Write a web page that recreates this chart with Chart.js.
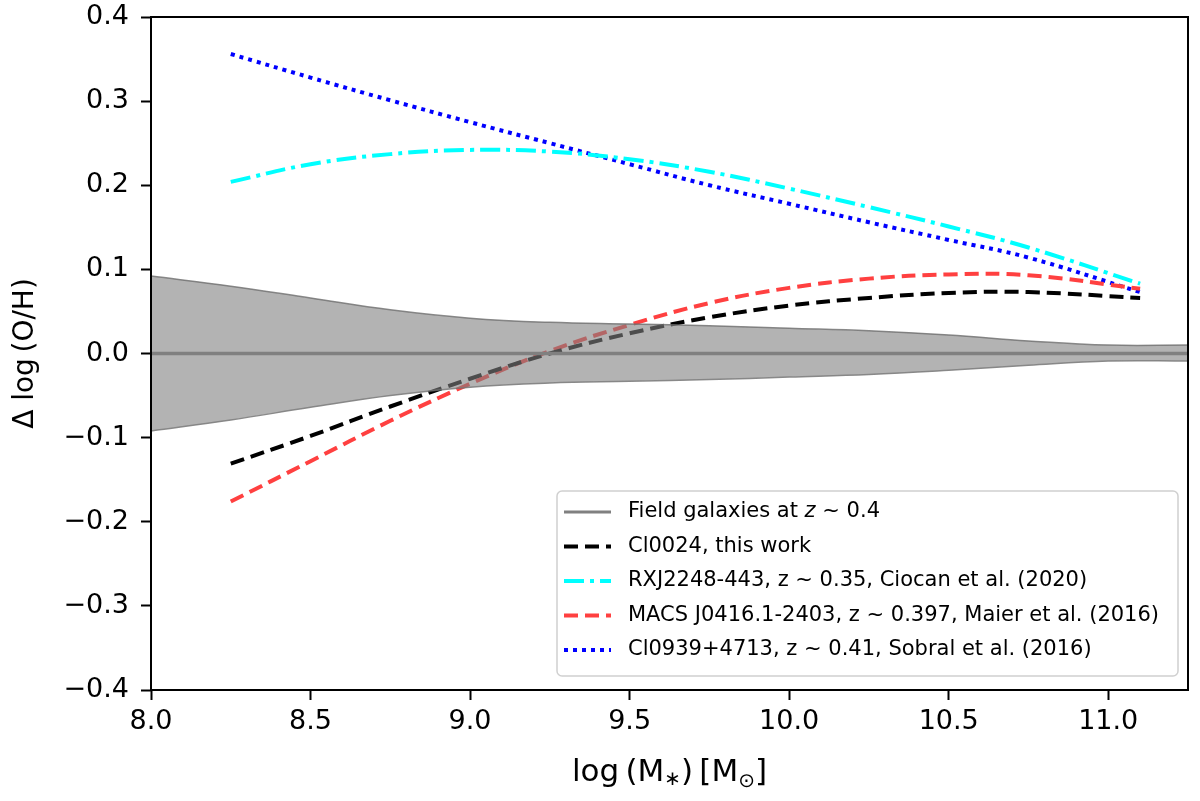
<!DOCTYPE html>
<html lang="en">
<head>
    <meta charset="UTF-8">
    <title>Delta log(O/H) vs stellar mass</title>
    <script src="https://cdn.jsdelivr.net/npm/chart.js"></script>
    <style>
        html, body { margin: 0; padding: 0; background: #fff; }
        #wrap { width: 1200px; height: 801px; }
    </style>
</head>
<body>
    <div id="wrap"><canvas id="chart" width="1200" height="801"></canvas></div>
    <script>
        // values
        const curveMass = [8.25, 8.5, 8.75, 9.0, 9.25, 9.5, 9.75, 10.0, 10.25, 10.5, 10.75, 11.1];
        const cl0024 = [-0.131, -0.098, -0.063, -0.030, 0.000, 0.024, 0.043, 0.057, 0.066, 0.072, 0.073, 0.066];
        const rxj2248 = [0.204, 0.225, 0.237, 0.242, 0.240, 0.231, 0.216, 0.196, 0.174, 0.151, 0.126, 0.083];
        const macs0416 = [-0.176, -0.128, -0.080, -0.036, 0.003, 0.034, 0.060, 0.078, 0.089, 0.094, 0.093, 0.077];
        const cl0939 = [0.356, 0.328, 0.301, 0.275, 0.250, 0.225, 0.200, 0.178, 0.156, 0.135, 0.114, 0.073];

        const fieldMass = [8.0, 8.25, 8.5, 8.75, 9.0, 9.25, 9.5, 9.75, 10.0, 10.25, 10.5, 10.75, 11.0, 11.25];
        const fieldUpper = [0.092, 0.080, 0.066, 0.052, 0.042, 0.037, 0.035, 0.033, 0.030, 0.027, 0.022, 0.015, 0.010, 0.010];
        const fieldLower = [-0.092, -0.079, -0.064, -0.050, -0.040, -0.035, -0.033, -0.031, -0.028, -0.025, -0.020, -0.014, -0.009, -0.009];
        const fieldMid = [0, 0, 0, 0, 0, 0, 0, 0, 0, 0, 0, 0, 0, 0];

        const xTicks = [8.0, 8.5, 9.0, 9.5, 10.0, 10.5, 11.0];
        const yTicks = [-0.4, -0.3, -0.2, -0.1, 0.0, 0.1, 0.2, 0.3, 0.4];

        const legendItems = [
            { label: ['Field galaxies at ', 'z', ' ~ 0.4'], color: '#808080', dash: [], width: 3 },
            { label: ['Cl0024, this work'], color: '#000000', dash: [14, 7], width: 4 },
            { label: ['RXJ2248-443, z ~ 0.35, Ciocan et al. (2020)'], color: '#00ffff', dash: [20, 6, 4, 6], width: 4 },
            { label: ['MACS J0416.1-2403, z ~ 0.397, Maier et al. (2016)'], color: '#ff4040', dash: [14, 7], width: 4 },
            { label: ['Cl0939+4713, z ~ 0.41, Sobral et al. (2016)'], color: '#0000ff', dash: [4, 5], width: 4 }
        ];

        const pts = (xs, ys) => xs.map((x, i) => ({ x: x, y: ys[i] }));
        const FONT = "'DejaVu Sans', sans-serif";
        const fmt = v => (v < 0 ? '\u2212' : '') + Math.abs(v).toFixed(1);

        const frameAndLegend = {
            id: 'frameAndLegend',
            afterDraw(chart) {
                const c = chart.ctx;
                const a = chart.chartArea;
                c.save();
                c.strokeStyle = '#000';
                c.lineWidth = 2;
                c.setLineDash([]);
                c.strokeRect(a.left, a.top, a.right - a.left, a.bottom - a.top);

                // legend box
                const bx = 557, by = 491, bw = 621, bh = 185;
                c.fillStyle = 'rgba(255,255,255,0.85)';
                c.strokeStyle = '#d0d0d0';
                c.lineWidth = 1.5;
                c.beginPath();
                c.roundRect(bx, by, bw, bh, 5);
                c.fill();
                c.stroke();

                c.textBaseline = 'middle';
                c.fillStyle = '#000';
                legendItems.forEach((it, i) => {
                    const y = 512 + i * 34.5;
                    c.strokeStyle = it.color;
                    c.lineWidth = it.width;
                    c.setLineDash(it.dash);
                    c.beginPath();
                    c.moveTo(564, y);
                    c.lineTo(611, y);
                    c.stroke();
                    c.setLineDash([]);
                    let tx = 628;
                    it.label.forEach((part, j) => {
                        c.font = (it.label.length > 1 && j === 1 ? 'italic ' : '') + '21px ' + FONT;
                        c.fillText(part, tx, y);
                        tx += c.measureText(part).width;
                    });
                });

                // x axis title with subscripts
                c.textBaseline = 'alphabetic';
                const cy = 781;
                const parts = [
                    ['log\u2009(M', 31, 0], ['\u2217', 20, 4], [')\u2009[M', 31, 0], ['\u2299', 20, 6], [']', 31, 0]
                ];
                let total = 0;
                parts.forEach(p => { c.font = p[1] + 'px ' + FONT; total += c.measureText(p[0]).width; });
                let x = (a.left + a.right) / 2 - total / 2;
                parts.forEach(p => {
                    c.font = p[1] + 'px ' + FONT;
                    c.fillText(p[0], x, cy + p[2]);
                    x += c.measureText(p[0]).width;
                });

                // y axis title
                c.textBaseline = 'middle';
                c.translate(26, (a.top + a.bottom) / 2);
                c.rotate(-Math.PI / 2);
                c.textAlign = 'center';
                c.font = '28px ' + FONT;
                c.fillText('\u0394 log\u2009(O/H)', 0, 0);
                c.restore();
            }
        };

        const ctx = document.getElementById('chart').getContext('2d');
        new Chart(ctx, {
            type: 'line',
            data: {
                datasets: [
                    {
                        label: 'upper', data: pts(fieldMass, fieldUpper),
                        borderColor: 'rgba(110,110,110,0.8)', borderWidth: 1.5,
                        backgroundColor: 'rgba(128,128,128,0.6)', fill: '+1', tension: 0.4, pointRadius: 0
                    },
                    {
                        label: 'lower', data: pts(fieldMass, fieldLower),
                        borderColor: 'rgba(110,110,110,0.8)', borderWidth: 1.5,
                        fill: false, tension: 0.4, pointRadius: 0
                    },
                    {
                        label: 'Field galaxies at z ~ 0.4', data: pts(fieldMass, fieldMid),
                        borderColor: '#808080', borderWidth: 3.5, fill: false, pointRadius: 0
                    },
                    {
                        label: 'Cl0024, this work', data: pts(curveMass, cl0024),
                        borderColor: '#000000', borderWidth: 4, borderDash: [14, 7],
                        fill: false, tension: 0.4, pointRadius: 0
                    },
                    {
                        label: 'RXJ2248-443', data: pts(curveMass, rxj2248),
                        borderColor: '#00ffff', borderWidth: 4, borderDash: [20, 6, 4, 6],
                        fill: false, tension: 0.4, pointRadius: 0
                    },
                    {
                        label: 'MACS J0416.1-2403', data: pts(curveMass, macs0416),
                        borderColor: '#ff4040', borderWidth: 4, borderDash: [14, 7],
                        fill: false, tension: 0.4, pointRadius: 0
                    },
                    {
                        label: 'Cl0939+4713', data: pts(curveMass, cl0939),
                        borderColor: '#0000ff', borderWidth: 4, borderDash: [4, 5],
                        fill: false, tension: 0.4, pointRadius: 0
                    }
                ]
            },
            options: {
                responsive: false,
                animation: false,
                layout: { padding: { left: 0, right: 12, top: 17, bottom: 0 } },
                plugins: { legend: { display: false }, tooltip: { enabled: false } },
                scales: {
                    x: {
                        type: 'linear', min: 8.0, max: 11.25,
                        afterBuildTicks: s => { s.ticks = xTicks.map(v => ({ value: v })); },
                        afterFit: s => { s.height = 111; s.paddingLeft = 0; s.paddingRight = 0; },
                        grid: { drawOnChartArea: false, drawTicks: true, tickLength: 10, tickWidth: 2, color: '#000' },
                        border: { display: false },
                        ticks: {
                            color: '#000', font: { family: FONT, size: 27 }, padding: 6, maxRotation: 0,
                            callback: v => fmt(v)
                        }
                    },
                    y: {
                        min: -0.4, max: 0.4,
                        afterBuildTicks: s => { s.ticks = yTicks.map(v => ({ value: v })); },
                        afterFit: s => { s.width = 151; s.paddingTop = 0; s.paddingBottom = 0; },
                        grid: { drawOnChartArea: false, drawTicks: true, tickLength: 10, tickWidth: 2, color: '#000' },
                        border: { display: false },
                        ticks: {
                            color: '#000', font: { family: FONT, size: 27 }, padding: 12,
                            callback: v => fmt(v)
                        }
                    }
                }
            },
            plugins: [frameAndLegend]
        });
    </script>
</body>
</html>
